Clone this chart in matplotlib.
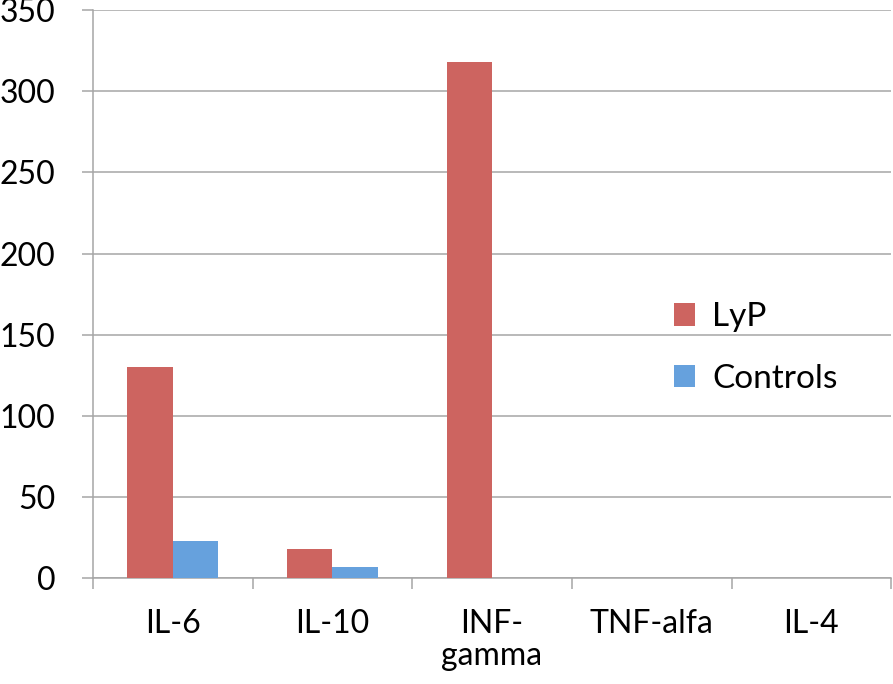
import numpy as np
import matplotlib.pyplot as plt

categories = ['IL-6', 'IL-10', 'INF-\ngamma', 'TNF-alfa', 'IL-4']
lyp = [130, 18, 318, 0, 0]
controls = [23, 7, 0, 0, 0]

plt.rcParams['font.family'] = ['Lato', 'DejaVu Sans']

fig = plt.figure(figsize=(8.93, 6.84), dpi=100)
ax = fig.add_axes([0.104, 0.155, 0.894, 0.830])

x = np.arange(len(categories))
w = 0.285
ax.bar(x - w / 2, lyp, w, color='#CD6460', label='LyP', zorder=3)
ax.bar(x + w / 2, controls, w, color='#66A1DD', label='Controls', zorder=3)

ax.set_xlim(-0.5, len(categories) - 0.5)
ax.set_ylim(0, 350)
ax.set_yticks(np.arange(0, 351, 50))
ax.yaxis.grid(True, color='#a6a6a6', linewidth=1.1, zorder=0)

# category boundaries as ticks, labels centred in between
ax.set_xticks(np.arange(-0.5, len(categories)), minor=False)
ax.set_xticklabels([])
ax.set_xticks(x, minor=True)
ax.set_xticklabels(categories, minor=True, fontsize=23, va='top', linespacing=1.12)
ax.tick_params(axis='x', which='minor', length=0, pad=22)
ax.tick_params(axis='x', which='major', length=8, width=1.1, color='#a6a6a6')
ax.tick_params(axis='y', length=8, width=1.1, color='#a6a6a6', labelsize=23, pad=19)

for s in ['top', 'right']:
    ax.spines[s].set_visible(False)
for s in ['left', 'bottom']:
    ax.spines[s].set_color('#a6a6a6')
    ax.spines[s].set_linewidth(1.1)

ax.legend(loc='center left', bbox_to_anchor=(0.69, 0.405), frameon=False,
          fontsize=24, handlelength=0.65, handleheight=0.65, labelspacing=0.95,
          handletextpad=0.5)

fig.savefig('out.png', dpi=100)
